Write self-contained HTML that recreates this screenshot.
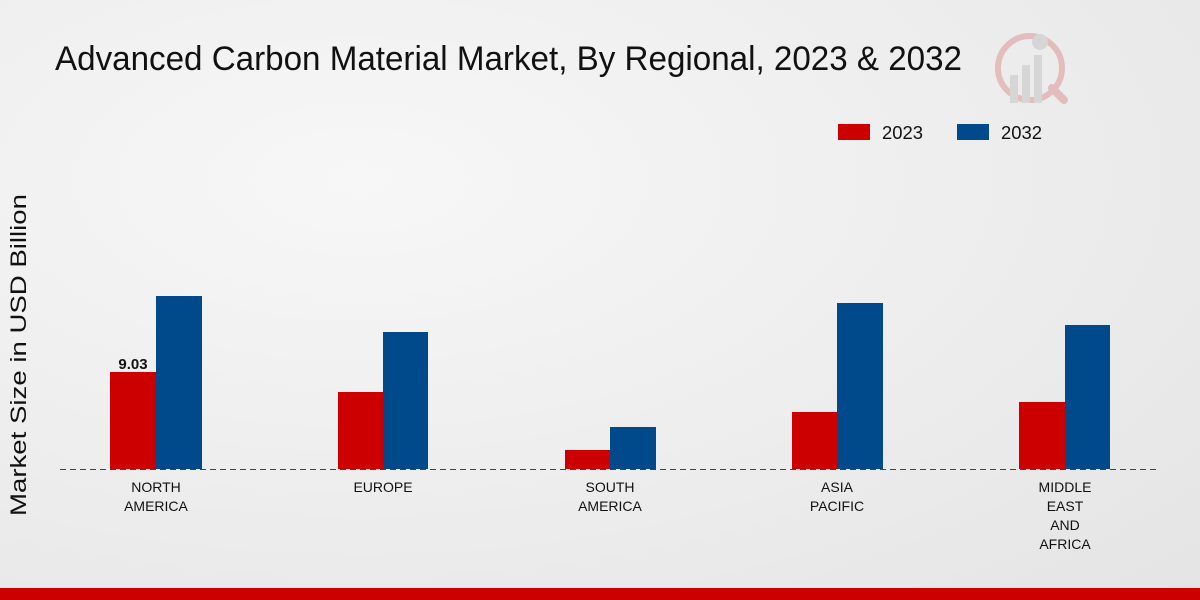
<!DOCTYPE html>
<html><head><meta charset="utf-8"><style>
html,body{margin:0;padding:0;width:1200px;height:600px;overflow:hidden}
body{background:radial-gradient(ellipse at 30% 30%,#f7f7f7 0%,#ececec 60%,#e4e4e4 100%)}
svg{display:block}
text{font-family:"Liberation Sans",sans-serif}
</style></head><body>
<svg width="1200" height="600" viewBox="0 0 1200 600">
<text x="55" y="70" font-size="34" fill="#111" textLength="907" lengthAdjust="spacingAndGlyphs">Advanced Carbon Material Market, By Regional, 2023 &amp; 2032</text>
<g opacity="0.25">
<circle cx="1030" cy="68" r="32" fill="none" stroke="#c33" stroke-width="6"/>
<rect x="1010" y="75" width="8" height="28" fill="#999"/>
<rect x="1022" y="65" width="8" height="38" fill="#999"/>
<rect x="1034" y="55" width="8" height="48" fill="#999"/>
<circle cx="1040" cy="42" r="8" fill="#999"/>
<line x1="1052" y1="88" x2="1064" y2="100" stroke="#c33" stroke-width="8" stroke-linecap="round"/>
</g>
<rect x="838" y="124" width="32" height="16" fill="#cc0000"/>
<text x="882" y="139" font-size="18" fill="#111" textLength="41" lengthAdjust="spacingAndGlyphs">2023</text>
<rect x="957" y="124" width="32" height="16" fill="#004a8c"/>
<text x="1001" y="139" font-size="18" fill="#111" textLength="41" lengthAdjust="spacingAndGlyphs">2032</text>
<text transform="translate(26,355) rotate(-90)" font-size="22" fill="#111" text-anchor="middle" textLength="322" lengthAdjust="spacingAndGlyphs">Market Size in USD Billion</text>
<g fill="#cc0000">
<rect x="110" y="372" width="46" height="97"/>
<rect x="338" y="392" width="45" height="77"/>
<rect x="565" y="450" width="45" height="19"/>
<rect x="792" y="412" width="45" height="57"/>
<rect x="1019" y="402" width="46" height="67"/>
</g>
<g fill="#004a8c">
<rect x="156" y="296" width="46" height="173"/>
<rect x="383" y="332" width="45" height="137"/>
<rect x="610" y="427" width="46" height="42"/>
<rect x="837" y="303" width="46" height="166"/>
<rect x="1065" y="325" width="45" height="144"/>
</g>
<line x1="60" y1="469.5" x2="1160" y2="469.5" stroke="#444" stroke-width="1" stroke-dasharray="6,4"/>
<text x="133" y="369" font-size="15" font-weight="bold" fill="#111" text-anchor="middle">9.03</text>
<g font-size="14" fill="#111" text-anchor="middle">
<text x="156" y="492">NORTH</text><text x="156" y="511">AMERICA</text>
<text x="383" y="492">EUROPE</text>
<text x="610" y="492">SOUTH</text><text x="610" y="511">AMERICA</text>
<text x="837" y="492">ASIA</text><text x="837" y="511">PACIFIC</text>
<text x="1065" y="492">MIDDLE</text><text x="1065" y="511">EAST</text><text x="1065" y="530">AND</text><text x="1065" y="549">AFRICA</text>
</g>
<rect x="0" y="588" width="1200" height="12" fill="#cc0000"/>
</svg>
</body></html>
